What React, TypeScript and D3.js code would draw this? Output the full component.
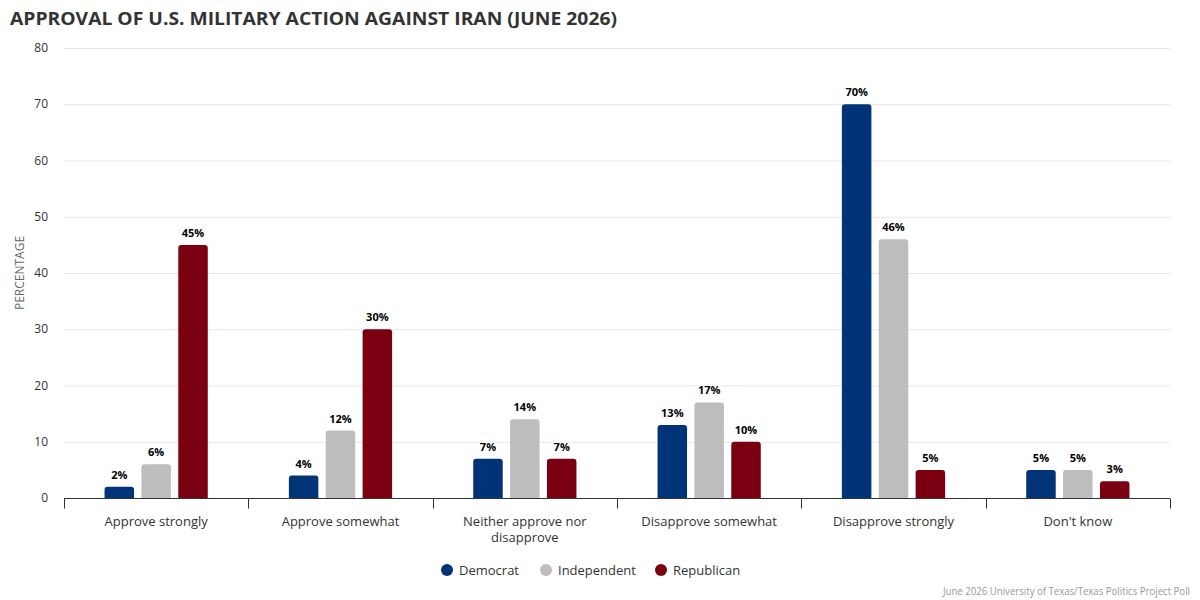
import React, {useEffect, useRef} from 'react';
import * as d3 from 'd3';

const categories: string[] = [
  'Approve strongly',
  'Approve somewhat',
  'Neither approve nor disapprove',
  'Disapprove somewhat',
  'Disapprove strongly',
  "Don't know",
];
const seriesNames: string[] = ['Democrat', 'Independent', 'Republican'];
const democrat: number[] = [2, 4, 7, 13, 70, 5];
const independent: number[] = [6, 12, 14, 17, 46, 5];
const republican: number[] = [45, 30, 7, 10, 5, 3];
const yTicks: number[] = [0, 10, 20, 30, 40, 50, 60, 70, 80];

const colors = ['#003479', '#bdbdbd', '#7a0011'];
const font = '"Open Sans", "Noto Sans", sans-serif';

const W = 1200;
const H = 600;
const margin = {top: 48, right: 30, bottom: 102, left: 64};

export default function App() {
  const ref = useRef<SVGSVGElement>(null);

  useEffect(() => {
    const svg = d3.select(ref.current);
    svg.selectAll('*').remove();

    const series = [democrat, independent, republican];
    const x0 = d3.scaleBand<string>().domain(categories).range([margin.left, W - margin.right]);
    const groupPad = x0.bandwidth() * 0.2;
    const x1 = d3
      .scaleBand<string>()
      .domain(seriesNames)
      .range([groupPad, x0.bandwidth() - groupPad])
      .paddingInner(0.2)
      .paddingOuter(0.1);
    const y = d3.scaleLinear().domain([0, 80]).range([H - margin.bottom, margin.top]);

    // title
    svg
      .append('text')
      .attr('x', 10)
      .attr('y', 25)
      .attr('font-family', font)
      .attr('font-weight', 700)
      .attr('font-size', 18)
      .attr('fill', '#333')
      .attr('textLength', 607)
      .attr('lengthAdjust', 'spacingAndGlyphs')
      .text('APPROVAL OF U.S. MILITARY ACTION AGAINST IRAN (JUNE 2026)');

    // grid
    const grid = svg.append('g');
    grid
      .selectAll('line')
      .data(yTicks.filter(t => t > 0))
      .join('line')
      .attr('x1', margin.left)
      .attr('x2', W - margin.right)
      .attr('y1', d => y(d) + 0.5)
      .attr('y2', d => y(d) + 0.5)
      .attr('stroke', '#e6e6e6');

    // y axis labels
    svg
      .append('g')
      .selectAll('text')
      .data(yTicks)
      .join('text')
      .attr('x', 48)
      .attr('y', d => y(d) + 4)
      .attr('text-anchor', 'end')
      .attr('font-family', font)
      .attr('font-size', 12)
      .attr('fill', '#333')
      .text(d => d);

    svg
      .append('text')
      .attr('transform', `translate(24,${(y(0) + y(80)) / 2}) rotate(-90)`)
      .attr('text-anchor', 'middle')
      .attr('font-family', font)
      .attr('font-size', 12)
      .attr('fill', '#666')
      .text('PERCENTAGE');

    // bars
    const groups = svg
      .append('g')
      .selectAll('g')
      .data(categories)
      .join('g')
      .attr('transform', d => `translate(${x0(d)},0)`);

    seriesNames.forEach((name, si) => {
      groups
        .append('path')
        .attr('fill', colors[si])
        .attr('d', (_, ci) => {
          const v = series[si][ci];
          const bx = x1(name)!;
          const bw = x1.bandwidth();
          const top = y(v);
          const bottom = y(0);
          const r = Math.min(3, (bottom - top) / 2);
          return `M${bx},${bottom}V${top + r}Q${bx},${top} ${bx + r},${top}H${bx + bw - r}Q${bx + bw},${top} ${bx + bw},${top + r}V${bottom}Z`;
        });
      groups
        .append('text')
        .attr('x', x1(name)! + x1.bandwidth() / 2)
        .attr('y', (_, ci) => y(series[si][ci]) - 8)
        .attr('text-anchor', 'middle')
        .attr('font-family', font)
        .attr('font-weight', 700)
        .attr('font-size', 11)
        .attr('fill', '#000')
        .attr('stroke', '#fff')
        .attr('stroke-width', 2)
        .attr('paint-order', 'stroke')
        .text((_, ci) => `${series[si][ci]}%`);
    });

    // x axis
    const axis = svg.append('g').attr('transform', `translate(0,${y(0) + 0.5})`);
    axis
      .append('line')
      .attr('x1', margin.left)
      .attr('x2', W - margin.right)
      .attr('stroke', '#333');
    const tickPos = categories.map(c => x0(c)!).concat([W - margin.right]);
    axis
      .selectAll('line.tick')
      .data(tickPos)
      .join('line')
      .attr('class', 'tick')
      .attr('x1', d => Math.round(d) + 0.5)
      .attr('x2', d => Math.round(d) + 0.5)
      .attr('y1', 0)
      .attr('y2', 10)
      .attr('stroke', '#333');

    const wrapLines = (c: string) =>
      c === 'Neither approve nor disapprove' ? ['Neither approve nor', 'disapprove'] : [c];
    axis
      .selectAll('text.cat')
      .data(categories)
      .join('text')
      .attr('class', 'cat')
      .attr('text-anchor', 'middle')
      .attr('font-family', font)
      .attr('font-size', 13)
      .attr('fill', '#333')
      .each(function (c) {
        const t = d3.select(this);
        wrapLines(c).forEach((line, i) => {
          t.append('tspan')
            .attr('x', x0(c)! + x0.bandwidth() / 2)
            .attr('y', 27 + i * 16)
            .text(line);
        });
      });

    // legend
    const legendX = [447, 546, 661];
    const legend = svg
      .append('g')
      .selectAll('g')
      .data(seriesNames)
      .join('g')
      .attr('transform', (_, i) => `translate(${legendX[i]},570)`);
    legend.append('circle').attr('r', 6).attr('fill', (_, i) => colors[i]);
    legend
      .append('text')
      .attr('x', 12)
      .attr('y', 5)
      .attr('font-family', font)
      .attr('font-size', 13)
      .attr('fill', '#333')
      .text(d => d);

    // credit
    svg
      .append('text')
      .attr('x', 1190)
      .attr('y', 595)
      .attr('text-anchor', 'end')
      .attr('font-family', font)
      .attr('font-size', 10)
      .attr('fill', '#999')
      .attr('textLength', 247)
      .attr('lengthAdjust', 'spacingAndGlyphs')
      .text('June 2026 University of Texas/Texas Politics Project Poll');
  }, []);

  return (
    <svg
      ref={ref}
      width={W}
      height={H}
      style={{position: 'absolute', left: 0, top: 0, background: '#fff'}}
    />
  );
}
